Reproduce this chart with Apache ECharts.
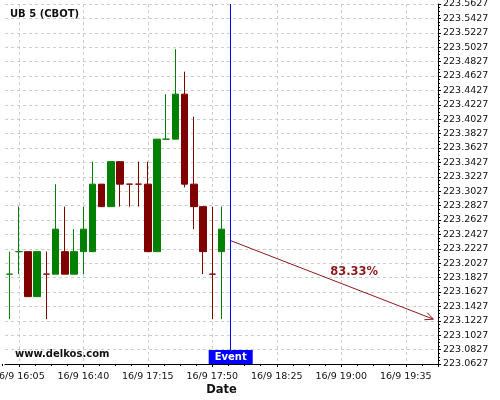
<!DOCTYPE html>
<html>
<head>
<meta charset="utf-8">
<script src="https://cdn.jsdelivr.net/npm/echarts@6/dist/echarts.min.js"></script>
<style>
  html, body { margin: 0; padding: 0; background: #fff; }
  #chart { width: 500px; height: 400px; }
</style>
</head>
<body>
<div id="chart"></div>
<script>
// UB 5 (CBOT), 5 minute candles on 16/9
const day = "16/9";
const times = ["16:00", "16:05", "16:10", "16:15", "16:20", "16:25", "16:30", "16:35",
  "16:40", "16:45", "16:50", "16:55", "17:00", "17:05", "17:10", "17:15",
  "17:20", "17:25", "17:30", "17:35", "17:40", "17:45", "17:50", "17:55"];
const opens = [223.1875, 223.21875, 223.21875, 223.15625, 223.1875, 223.1875, 223.21875, 223.1875,
  223.21875, 223.21875, 223.3125, 223.28125, 223.34375, 223.3125, 223.3125, 223.3125,
  223.21875, 223.375, 223.375, 223.4375, 223.3125, 223.28125, 223.1875, 223.21875];
const closes = [223.1875, 223.21875, 223.15625, 223.21875, 223.1875, 223.25, 223.1875, 223.21875,
  223.25, 223.3125, 223.28125, 223.34375, 223.3125, 223.3125, 223.3125, 223.21875,
  223.375, 223.375, 223.4375, 223.3125, 223.28125, 223.21875, 223.1875, 223.25];
const lows = [223.125, 223.1875, 223.15625, 223.15625, 223.125, 223.1875, 223.1875, 223.1875,
  223.1875, 223.21875, 223.28125, 223.28125, 223.28125, 223.28125, 223.28125, 223.21875,
  223.21875, 223.375, 223.375, 223.308, 223.25, 223.1875, 223.125, 223.125];
const highs = [223.21875, 223.28125, 223.21875, 223.21875, 223.21875, 223.3125, 223.28125, 223.25,
  223.28125, 223.34375, 223.3125, 223.34375, 223.34375, 223.3125, 223.34375, 223.34375,
  223.375, 223.4375, 223.5, 223.46875, 223.40625, 223.28125, 223.28125, 223.28125];

const eventTime = "18:00";
const arrowFrom = ["18:00", 223.234];
const arrowTo = ["19:50", 223.125];
const arrowText = "83.33%";
const arrowTextAt = ["19:07", 223.19];

const yMin = 223.0627, yMax = 223.5627, yStep = 0.02;
const xFirst = "15:57.5", xLast = "19:52.5";

const UP = "#008000", DOWN = "#800000";
const FONT = "DejaVu Sans";

// minutes since 15:30, so label times (16:05, 16:40, ...) are multiples of 35
function toMin(t) {
  const p = t.split(":");
  return Number(p[0]) * 60 + Number(p[1]) - (15 * 60 + 30);
}
function fmtTime(v) {
  const m = Math.round(v) + 15 * 60 + 30;
  const h = Math.floor(m / 60), mm = m % 60;
  return day + " " + h + ":" + (mm < 10 ? "0" : "") + mm;
}

// doji colour follows the previous close, then the previous candle
let dir = [];
for (let i = 0; i < times.length; i++) {
  let d;
  if (closes[i] > opens[i]) d = 1;
  else if (closes[i] < opens[i]) d = -1;
  else if (i === 0) d = 1;
  else if (closes[i] > closes[i - 1]) d = 1;
  else if (closes[i] < closes[i - 1]) d = -1;
  else d = dir[i - 1];
  dir.push(d);
}

const candles = times.map(function (t, i) {
  const item = { value: [toMin(t), opens[i], closes[i], lows[i], highs[i]] };
  if (opens[i] === closes[i]) {
    const c = dir[i] > 0 ? UP : DOWN;
    item.itemStyle = { color: c, color0: c, borderColor: c, borderColor0: c };
  }
  return item;
});

const plotLeft = 5, plotRight = 62, plotTop = 4, plotBottom = 36;
const plotW = 500 - plotLeft - plotRight;
const pxPerMin = plotW / (toMin(xLast) - toMin(xFirst));

const chart = echarts.init(document.getElementById("chart"));
chart.setOption({
  animation: false,
  textStyle: { fontFamily: FONT },
  title: {
    text: "UB 5 (CBOT)",
    left: 10,
    top: 9,
    padding: 0,
    textStyle: { fontSize: 10, fontWeight: "bold", color: "#111", fontFamily: FONT }
  },
  graphic: [
    {
      type: "text",
      left: 15,
      top: 349,
      z: 10,
      style: { text: "www.delkos.com", font: 'bold 10px "DejaVu Sans"', fill: "#111" }
    }
  ],
  grid: [
    { left: plotLeft, right: plotRight, top: plotTop, bottom: plotBottom, outerBoundsMode: "none" },
    // wider grid only for the time ticks, starting at 15:30
    {
      left: plotLeft - toMin(xFirst) * pxPerMin, right: plotRight, top: plotTop, bottom: plotBottom,
      outerBoundsMode: "none"
    }
  ],
  xAxis: [
    {
      gridIndex: 0,
      type: "value",
      min: toMin(xFirst),
      max: toMin(xLast),
      axisLine: { show: true, onZero: false, lineStyle: { color: "#000", width: 1 } },
      axisTick: { show: false },
      axisLabel: { show: false },
      splitLine: { show: false },
      name: "Date",
      nameLocation: "middle",
      nameGap: 20,
      nameTextStyle: { fontSize: 11.5, fontWeight: "bold", color: "#111", fontFamily: FONT }
    },
    {
      gridIndex: 1,
      type: "value",
      min: 0,
      max: toMin(xLast),
      interval: 35,
      axisLine: { show: false, onZero: false },
      axisTick: { show: true, length: 3, lineStyle: { color: "#000" } },
      minorTick: { show: true, splitNumber: 4, length: 2, lineStyle: { color: "#000" } },
      axisLabel: {
        formatter: fmtTime,
        fontSize: 9.5,
        color: "#111",
        margin: 8,
        showMinLabel: false,
        showMaxLabel: false
      },
      splitLine: { show: true, lineStyle: { color: "#cccccc", type: [3, 3], width: 1 } }
    }
  ],
  yAxis: [
    {
      gridIndex: 0,
      type: "value",
      position: "right",
      min: yMin,
      max: yMax,
      interval: yStep,
      axisLine: { show: true, onZero: false, lineStyle: { color: "#000", width: 1 } },
      axisTick: { show: true, length: 3, lineStyle: { color: "#000" } },
      minorTick: { show: true, splitNumber: 4, length: 2, lineStyle: { color: "#000" } },
      axisLabel: {
        formatter: function (v) { return v.toFixed(4); },
        fontSize: 9.5,
        color: "#111",
        margin: 5
      },
      splitLine: { show: true, lineStyle: { color: "#cccccc", type: [3, 3], width: 1 } }
    },
    { gridIndex: 1, type: "value", show: false, min: 0, max: 1 }
  ],
  series: [
    {
      type: "candlestick",
      xAxisIndex: 0,
      yAxisIndex: 0,
      barWidth: 7,
      encode: { x: 0, y: [1, 2, 3, 4] },
      itemStyle: { color: UP, color0: DOWN, borderColor: UP, borderColor0: DOWN, borderWidth: 1 },
      data: candles,
      markLine: {
        silent: true,
        symbol: "none",
        label: { show: false },
        lineStyle: { color: "#0000ff", type: "solid", width: 1 },
        data: [{ xAxis: toMin(eventTime) }]
      }
    },
    {
      type: "custom",
      xAxisIndex: 0,
      yAxisIndex: 0,
      z: 6,
      encode: { x: [0, 2], y: [1, 3] },
      data: [[toMin(arrowFrom[0]), arrowFrom[1], toMin(arrowTo[0]), arrowTo[1]]],
      renderItem: function (params, api) {
        const p0 = api.coord([api.value(0), api.value(1)]);
        const p1 = api.coord([api.value(2), api.value(3)]);
        const ang = Math.atan2(p0[1] - p1[1], p0[0] - p1[0]);
        const len = 9, spread = 25 * Math.PI / 180;
        const a = [p1[0] + len * Math.cos(ang + spread), p1[1] + len * Math.sin(ang + spread)];
        const b = [p1[0] + len * Math.cos(ang - spread), p1[1] + len * Math.sin(ang - spread)];
        const tp = api.coord([toMin(arrowTextAt[0]), arrowTextAt[1]]);
        const stroke = { stroke: "#8b1a1a", lineWidth: 1, fill: null };
        return {
          type: "group",
          children: [
            { type: "line", shape: { x1: p0[0], y1: p0[1], x2: p1[0], y2: p1[1] }, style: stroke },
            { type: "polyline", shape: { points: [a, p1, b] }, style: stroke },
            {
              type: "text",
              x: tp[0],
              y: tp[1],
              style: {
                text: arrowText,
                fill: "#8b1a1a",
                font: 'bold 11.5px "DejaVu Sans"',
                align: "center",
                verticalAlign: "middle"
              }
            }
          ]
        };
      }
    },
    {
      type: "scatter",
      xAxisIndex: 0,
      yAxisIndex: 0,
      z: 8,
      symbolSize: 0,
      silent: true,
      itemStyle: { opacity: 1 },
      data: [[toMin(eventTime), yMin]],
      label: {
        show: true,
        position: "top",
        distance: 0,
        formatter: "Event",
        color: "#fff",
        fontWeight: "bold",
        fontSize: 10,
        lineHeight: 12,
        opacity: 1,
        backgroundColor: "#0000ff",
        padding: [1, 6, 1, 6]
      }
    }
  ]
});
</script>
</body>
</html>
